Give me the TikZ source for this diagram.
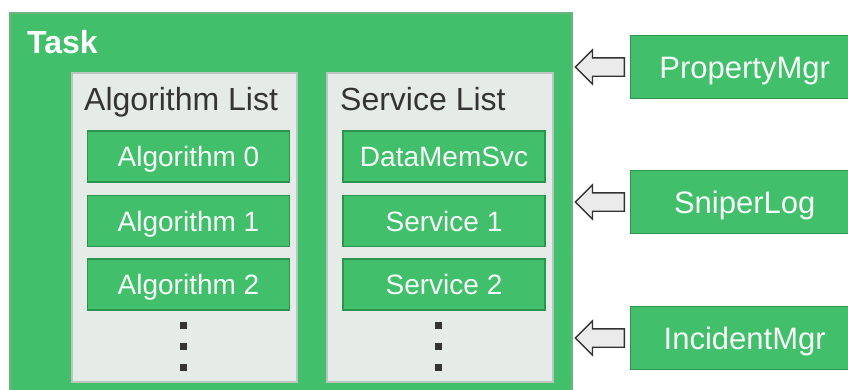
\documentclass[tikz,border=0pt]{standalone}
\usepackage{fontspec}
\setmainfont{Liberation Sans}
\usetikzlibrary{positioning,shapes.arrows}
\definecolor{tgreen}{RGB}{65,191,106}
\definecolor{tdark}{RGB}{44,148,76}
\definecolor{lgray}{RGB}{229,236,232}
\definecolor{lborder}{RGB}{188,198,193}
\definecolor{tgray}{RGB}{52,52,52}

\tikzset{
  taskbox/.style={fill=tgreen,draw=tdark!70,line width=1.2pt},
  listbox/.style={fill=lgray,draw=lborder,line width=1.4pt},
  itembox/.style={rectangle,fill=tgreen,draw=tdark,line width=1.4pt,minimum width=202pt,minimum height=51pt,inner sep=0pt,text height=20pt,text depth=0pt,text=white!96!tgreen,font=\fontsize{28}{32}\selectfont},
  mgrbox/.style={itembox,minimum width=240pt,minimum height=63pt,anchor=west,text height=22pt,font=\fontsize{31}{36}\selectfont},
  blockarrow/.style={single arrow,draw=black!80,fill=black!8,line width=1.3pt,shape border rotate=180,minimum height=49pt,single arrow head extend=8pt,single arrow head indent=0pt,inner xsep=0pt,inner ysep=8.5pt},
  listtitle/.style={anchor=base west,text=tgray,font=\fontsize{32}{36}\selectfont,inner sep=0pt},
}

\begin{document}
\begin{tikzpicture}[x=1pt,y=-1pt,line join=miter]
\useasboundingbox (0,0) rectangle (848,389);
% task frame
\draw[taskbox] (10,13) rectangle (572,400);
\node[anchor=base west,inner sep=0pt,text=white,font=\fontsize{32}{36}\selectfont\bfseries] (task) at (27,53) {Task};
% the two lists
\draw[listbox] (72,73) rectangle (297,382);
\draw[listbox] (327,73) rectangle (553,382);
\node[listtitle] (alglist) at (84,110) {Algorithm List};
\node[listtitle] (svclist) at (340,110) {Service List};
\node[itembox] (alg0) at (188.5,156.5) {Algorithm 0};
\node[itembox] (alg1) at (188.5,221) {Algorithm 1};
\node[itembox] (alg2) at (188.5,284.5) {Algorithm 2};
\node[itembox] (svc0) at (444,156.5) {DataMemSvc};
\node[itembox] (svc1) at (444,221) {Service 1};
\node[itembox] (svc2) at (444,284.5) {Service 2};
\foreach \yy in {325,346,367} {
  \fill[tgray] (179.5,\yy-3.5) rectangle ++(7,7);
  \fill[tgray] (434.5,\yy-3.5) rectangle ++(7,7);
}
% managers
\node[mgrbox] (pmgr) at (630,67) {\hspace*{-12pt}PropertyMgr};
\node[mgrbox] (slog) at (630,202) {\hspace*{-12pt}SniperLog};
\node[mgrbox] (imgr) at (630,338) {\hspace*{-12pt}IncidentMgr};
\node[blockarrow,left=5pt of pmgr] (pmarrow) {};
\node[blockarrow,left=5pt of slog] (slarrow) {};
\node[blockarrow,left=5pt of imgr] (imarrow) {};
\end{tikzpicture}
\end{document}
